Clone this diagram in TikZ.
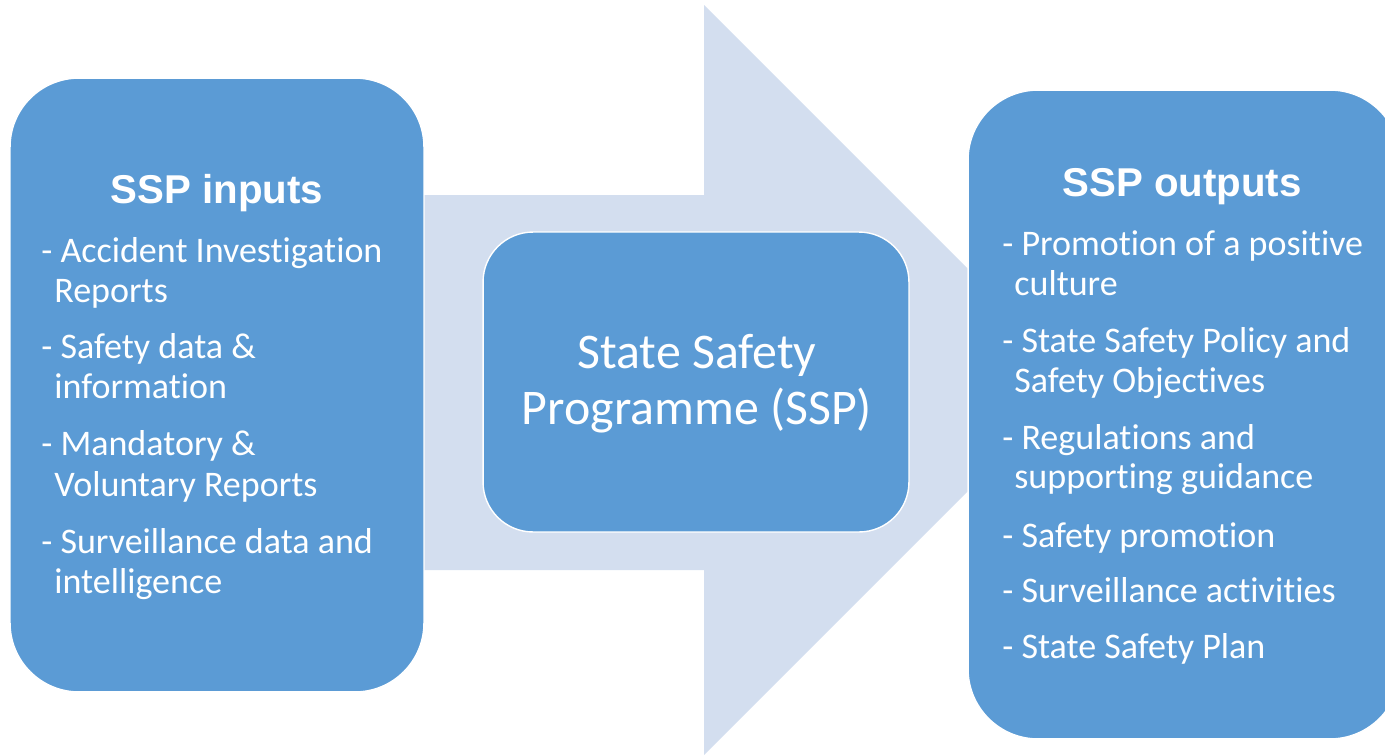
\documentclass[tikz,border=0pt]{standalone}
\usepackage{fontspec}
\setmainfont{Carlito}[Ligatures=NoCommon]
\newfontfamily\headfont{Liberation Sans}
\definecolor{boxblue}{HTML}{5B9BD5}
\definecolor{arrowblue}{HTML}{D3DEEF}
\tikzset{
  panel/.style={shape=rectangle, rounded corners=1.38cm, fill=boxblue, draw=white, line width=0.8pt},
  item/.style={anchor=base west, inner sep=0pt, text=white, font=\fontsize{20.5}{24}\selectfont},
  heading/.style={anchor=base, inner sep=0pt, text=white, font=\headfont\bfseries\fontsize{22.9}{27}\selectfont},
  title/.style={anchor=base, inner sep=0pt, text=white, font=\fontsize{28.4}{33}\selectfont}
}
\begin{document}
\begin{tikzpicture}[x=0.02cm, y=-0.02cm]
      \useasboundingbox (0,0) rectangle (1385,754);
      \clip (0,0) rectangle (1385,754);

      \fill[arrowblue] (300,195) -- (704,195) -- (704,5) -- (1079,380) -- (704,755) -- (704,570) -- (300,570) -- cycle;

      \node[panel, minimum width=8.28cm, minimum height=12.28cm] (inputs) at (217,385) {};
      \node[panel, minimum width=8.52cm, minimum height=6cm, rounded corners=1cm] (ssp) at (696,382) {};
      \node[panel, minimum width=8.64cm, minimum height=12.98cm, rounded corners=1.4cm] (outputs) at (1184,414.5) {};

      \node[heading] (inhead) at (217,203) {SSP inputs};
      \node[item] (in1) at (41,262) {- Accident Investigation};
      \node[item] (in1b) at (54,302) {Reports};
      \node[item] (in2) at (41,358) {- Safety data \&};
      \node[item] (in2b) at (54,398) {information};
      \node[item] (in3) at (41,455) {- Mandatory \&};
      \node[item] (in3b) at (54,496) {Voluntary Reports};
      \node[item] (in4) at (41,553) {- Surveillance data and};
      \node[item] (in4b) at (54,593) {intelligence};

      \node[title] (ssp1) at (697,368) {State Safety};
      \node[title] (ssp2) at (697,424) {Programme (SSP)};

      \node[heading] (outhead) at (1182,196) {SSP outputs};
      \node[item] (out1) at (1002,255) {- Promotion of a positive};
      \node[item] (out1b) at (1014,295) {culture};
      \node[item] (out2) at (1002,352) {- State Safety Policy and};
      \node[item] (out2b) at (1014,392) {Safety Objectives};
      \node[item] (out3) at (1002,449) {- Regulations and};
      \node[item] (out3b) at (1014,488) {supporting guidance};
      \node[item] (out4) at (1002,547) {- Safety promotion};
      \node[item] (out5) at (1002,602) {- Surveillance activities};
      \node[item] (out6) at (1002,658) {- State Safety Plan};
    \end{tikzpicture}
\end{document}
